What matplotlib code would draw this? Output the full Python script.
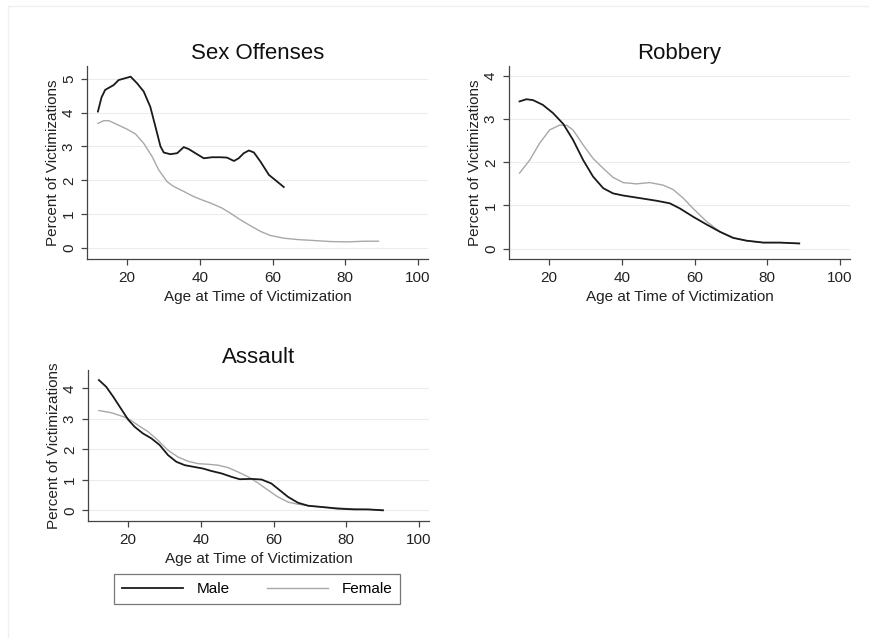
import matplotlib.pyplot as plt
from matplotlib.lines import Line2D

plt.rcParams['font.family'] = ['Liberation Sans', 'DejaVu Sans']

# Sex offenses
sex_m_age = [12, 13, 14, 16.3, 17.7, 20, 21, 22.8, 24.6, 26.4, 27.8, 29.2, 30.1, 31.9, 33.8, 35.6,
             37, 38.8, 41.1, 43.4, 45.7, 47.5, 49.4, 50.7, 52.1, 53.5, 54.9, 56.7, 59, 61.3, 63.1]
sex_m_pct = [4.03, 4.45, 4.67, 4.81, 4.96, 5.03, 5.06, 4.86, 4.62, 4.17, 3.59, 3.0, 2.82, 2.77, 2.80, 2.98,
             2.92, 2.80, 2.65, 2.68, 2.68, 2.67, 2.57, 2.65, 2.80, 2.88, 2.82, 2.55, 2.16, 1.96, 1.80]
sex_f_age = [12, 13.6, 15, 17.2, 20, 22.3, 24.6, 26.9, 28.7, 31, 32.8, 35.6, 38.3, 40.6, 42.9,
             46.1, 48.4, 51.2, 53.9, 56.7, 59.4, 63.1, 66.8, 71.4, 76, 80.6, 85.1, 89.1]
sex_f_pct = [3.68, 3.76, 3.76, 3.65, 3.51, 3.37, 3.09, 2.70, 2.31, 1.96, 1.82, 1.67, 1.52, 1.42, 1.33,
             1.18, 1.03, 0.83, 0.66, 0.49, 0.37, 0.29, 0.25, 0.22, 0.19, 0.18, 0.20, 0.20]

# Robbery
rob_m_age = [11.9, 13.8, 15.6, 18.3, 21.1, 23.9, 26.6, 29.4, 32.1, 34.9, 37.6, 40.4, 45, 49.5,
             53.2, 56, 59.6, 63.3, 67, 70.6, 74.3, 78.9, 83.5, 88.8]
rob_m_pct = [3.41, 3.46, 3.44, 3.33, 3.14, 2.89, 2.52, 2.05, 1.67, 1.40, 1.28, 1.23, 1.17, 1.11,
             1.05, 0.93, 0.74, 0.56, 0.39, 0.25, 0.185, 0.14, 0.14, 0.12]
rob_f_age = [11.9, 14.7, 17.4, 20.2, 22.9, 24.8, 26.6, 29.4, 32.1, 34.9, 37.6, 40.4, 44, 47.7,
             51.4, 54.1, 56.9, 59.6, 63.3, 67, 70.6, 74.3, 78.9, 83.5, 88.8]
rob_f_pct = [1.75, 2.05, 2.44, 2.75, 2.86, 2.86, 2.75, 2.40, 2.09, 1.86, 1.65, 1.53, 1.50, 1.53,
             1.47, 1.37, 1.17, 0.93, 0.63, 0.39, 0.25, 0.18, 0.14, 0.14, 0.12]

# Assault
asl_m_age = [12, 14, 15.9, 17.7, 20, 21.8, 24.1, 26.4, 28.7, 31, 33.3, 35.6, 38.3, 40.6, 42.9,
             45.7, 48.4, 50.7, 53.9, 56.7, 59.4, 61.7, 64, 66.7, 69.5, 73.2, 77.7, 82.3, 86, 90.1]
asl_m_pct = [4.27, 4.05, 3.73, 3.40, 2.98, 2.74, 2.52, 2.36, 2.14, 1.81, 1.59, 1.48, 1.42, 1.37, 1.29,
             1.21, 1.10, 1.02, 1.03, 1.01, 0.88, 0.66, 0.44, 0.25, 0.15, 0.11, 0.055, 0.03, 0.03, 0.0]
asl_f_age = [12, 15.4, 18.2, 20, 22.75, 25.5, 28.2, 31, 33.7, 36.5, 39.2, 42, 44.7, 47.5, 50.2,
             53, 55.7, 58.5, 61.2, 64, 66.7, 71.3, 75.9, 80.5, 85.1, 90.1]
asl_f_pct = [3.27, 3.2, 3.09, 3.01, 2.79, 2.58, 2.30, 1.97, 1.75, 1.61, 1.53, 1.51, 1.48, 1.40, 1.26,
             1.10, 0.90, 0.66, 0.44, 0.27, 0.20, 0.13, 0.09, 0.055, 0.03, 0.01]

panels = [
    ("Sex Offenses", sex_m_age, sex_m_pct, sex_f_age, sex_f_pct, [0, 1, 2, 3, 4, 5]),
    ("Robbery", rob_m_age, rob_m_pct, rob_f_age, rob_f_pct, [0, 1, 2, 3, 4]),
    ("Assault", asl_m_age, asl_m_pct, asl_f_age, asl_f_pct, [0, 1, 2, 3, 4]),
]

W, H = 870, 638
# axes boxes in pixels: left, top, right, bottom
boxes = [(87, 66, 428, 259), (509, 66, 850, 259), (88, 370, 429, 521)]
ylims = [(-0.325, 5.375), (-0.24, 4.23), (-0.35, 4.6)]

male_color = "#1a1a1a"
female_color = "#a8a8a8"
axis_color = "#444444"

fig = plt.figure(figsize=(W / 100, H / 100), dpi=100)
fig.patch.set_facecolor("white")

# faint outer graph-region edge
fig.add_artist(Line2D([8 / W, 1], [1 - 6 / H, 1 - 6 / H], color="#f0f0f0", lw=1))
fig.add_artist(Line2D([8 / W, 8 / W], [0, 1 - 6 / H], color="#f0f0f0", lw=1))

for (title, m_age, m_pct, f_age, f_pct, yt), (l, t, r, b), yl in zip(panels, boxes, ylims):
    ax = fig.add_axes([l / W, 1 - b / H, (r - l) / W, (b - t) / H])
    ax.plot(m_age, m_pct, color=male_color, lw=1.3, zorder=3, solid_joinstyle="round")
    ax.plot(f_age, f_pct, color=female_color, lw=1.0, zorder=2, solid_joinstyle="round")
    ax.set_xlim(9, 102.75)
    ax.set_ylim(*yl)
    ax.set_xticks([20, 40, 60, 80, 100])
    ax.set_yticks(yt)
    for y in yt:
        ax.axhline(y, color="#e6eef0", lw=0.8, zorder=1)
    for s in ["top", "right"]:
        ax.spines[s].set_visible(False)
    for s in ["left", "bottom"]:
        ax.spines[s].set_color(axis_color)
        ax.spines[s].set_linewidth(0.9)
    ax.tick_params(axis="both", colors=axis_color, labelcolor="#222222", labelsize=11,
                   length=4.5, width=0.9, direction="out")
    ax.tick_params(axis="x", pad=4)
    ax.tick_params(axis="y", labelrotation=90)
    for lab in ax.get_yticklabels():
        lab.set_va("center")
    ax.set_title(title, fontsize=16, color="#111111", pad=5)
    ax.set_xlabel("Age at Time of Victimization", fontsize=11, color="#222222", labelpad=4)
    ax.set_ylabel("Percent of Victimizations", fontsize=11, color="#222222", labelpad=1)

handles = [Line2D([], [], color=male_color, lw=1.3), Line2D([], [], color=female_color, lw=1.0)]
leg = fig.legend(handles, ["Male", "Female"], loc="center", bbox_to_anchor=(257 / W, 1 - 589 / H),
                 ncol=2, fontsize=11, frameon=True, fancybox=False, handlelength=4.0,
                 columnspacing=2.4, handletextpad=0.9, borderpad=0.5, borderaxespad=0)
leg.get_frame().set_edgecolor("#555555")
leg.get_frame().set_linewidth(0.9)

fig.savefig("out.png", dpi=100)
